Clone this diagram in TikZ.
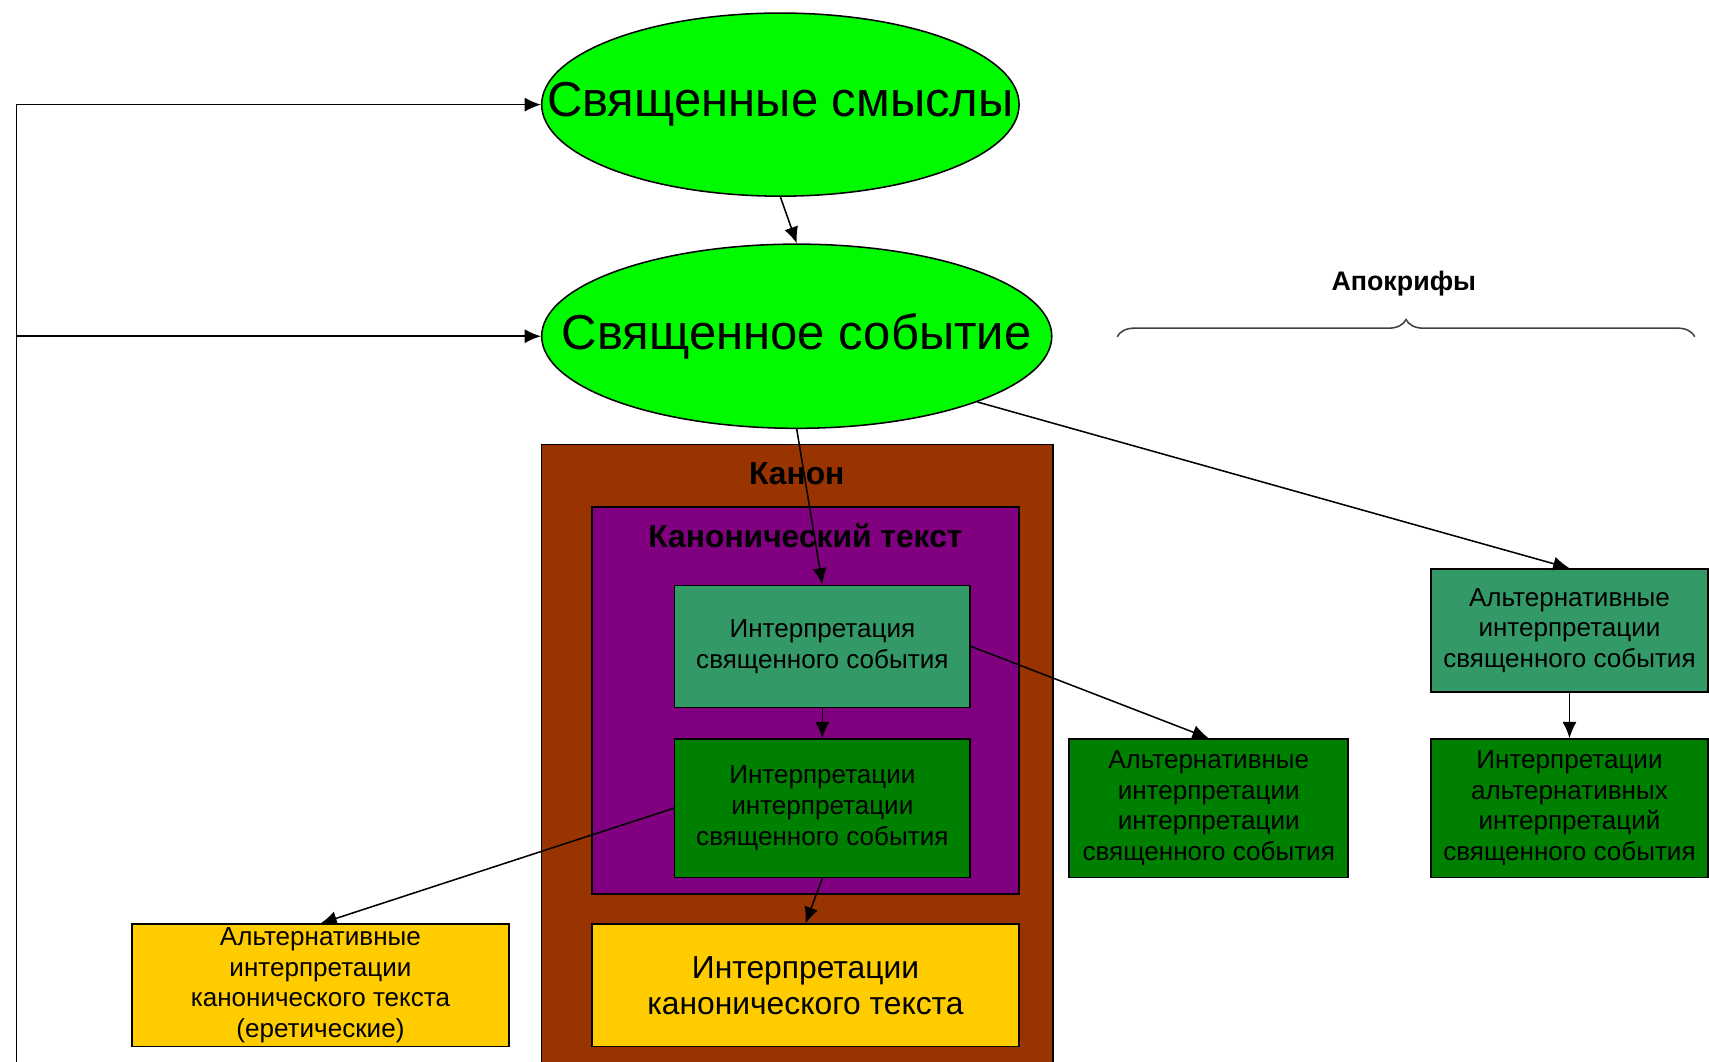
\documentclass[tikz,border=0pt]{standalone}
\usepackage{fontspec}
\setmainfont{Liberation Sans}
\usetikzlibrary{arrows.meta,shapes.geometric,positioning,decorations.pathreplacing}
\definecolor{holygreen}{RGB}{0,250,0}
\definecolor{canonbrown}{RGB}{153,51,0}
\definecolor{canonpurple}{RGB}{128,0,128}
\definecolor{interpteal}{RGB}{51,153,102}
\definecolor{interpgreen}{RGB}{0,128,0}
\definecolor{interpyellow}{RGB}{255,204,0}

\begin{document}
\begin{tikzpicture}[
    holy/.style={draw, ellipse, fill=holygreen, inner sep=0pt},
    holytext/.style={font=\fontsize{12.8}{15}\selectfont},
    canonbox/.style={draw, rectangle, inner sep=0pt},
    canonlabel/.style={font=\fontsize{8.3}{10}\selectfont\bfseries},
    interp/.style={draw, rectangle, inner sep=0pt, align=center, font=\fontsize{6.8}{8}\selectfont},
    link/.style={-{Latex[length=1.5mm,width=1.3mm]}, thin}
]
    \useasboundingbox (0,0) rectangle (15.68,-9.74);

    % Sacred meanings and the sacred event
    \node[holy, minimum width=4.38cm, minimum height=1.68cm, label={[holytext]center:Священные смыслы}] (sm) at (7.16,-0.96) {};
    \node[holy, minimum width=4.68cm, minimum height=1.69cm, label={[holytext]center:Священное событие}] (sev) at (7.31,-3.085) {};
    \draw[link] (sm.south) -- (sev.north);

    % Feedback line on the left
    \coordinate (lb) at (0.15,-9.80);
    \draw[link] (lb) |- (sm.west);
    \draw[link] (lb) |- (sev.west);

    % Canon
    \node[canonbox, fill=canonbrown, minimum width=4.69cm, minimum height=5.72cm] (canon) at (7.315,-6.94) {};
    \node[canonlabel] (canonname) at (7.31,-4.35) {Канон};
    \node[canonbox, fill=canonpurple, minimum width=3.92cm, minimum height=3.55cm] (ctext) at (7.39,-6.425) {};
    \node[canonlabel] (ctextname) at (7.39,-4.92) {Канонический текст};
    \node[interp, fill=interpteal, minimum width=2.71cm, minimum height=1.12cm] (isev) at (7.545,-5.93) {Интерпретация\\священного события};
    \node[interp, fill=interpgreen, minimum width=2.71cm, minimum height=1.27cm] (iisev) at (7.545,-7.415) {Интерпретации\\интерпретации\\священного события};
    \node[interp, fill=interpyellow, minimum width=3.92cm, minimum height=1.12cm, font=\fontsize{8.3}{9.4}\selectfont] (ictext) at (7.39,-9.04) {Интерпретации\\канонического текста};

    % Heresies on the left
    \node[interp, fill=interpyellow, minimum width=3.46cm, minimum height=1.12cm] (heres) at (2.94,-9.04) {Альтернативные\\интерпретации\\канонического текста\\(еретические)};

    % Alternatives on the right
    \node[interp, fill=interpgreen, minimum width=2.56cm, minimum height=1.27cm] (aiisev) at (11.09,-7.415) {Альтернативные\\интерпретации\\интерпретации\\священного события};
    \node[interp, fill=interpteal, minimum width=2.54cm, minimum height=1.13cm] (aisev) at (14.40,-5.785) {Альтернативные\\интерпретации\\священного события};
    \node[interp, fill=interpgreen, minimum width=2.54cm, minimum height=1.27cm] (iaisev) at (14.40,-7.415) {Интерпретации\\альтернативных\\интерпретаций\\священного события};

    % Apocrypha brace
    \node[font=\fontsize{7}{9}\selectfont\bfseries] (apoc) at (12.88,-2.60) {Апокрифы};
    \coordinate (brl) at (10.25,-3.09);
    \coordinate (brr) at (15.55,-3.09);
    \draw[darkgray, decorate, decoration={brace, amplitude=4.5pt}] (brl) -- (brr);

    % Connectors
    \draw[link] (sev.south) -- (isev.north);
    \draw[link] (isev.south) -- (iisev.north);
    \draw[link] (iisev.south) -- (ictext.north);
    \draw[link] (iisev.west) -- (heres.north);
    \draw[link] (isev.east) -- (aiisev.north);
    \draw[link] (sev.-20) -- (aisev.north);
    \draw[link] (aisev.south) -- (iaisev.north);

\end{tikzpicture}
\end{document}
